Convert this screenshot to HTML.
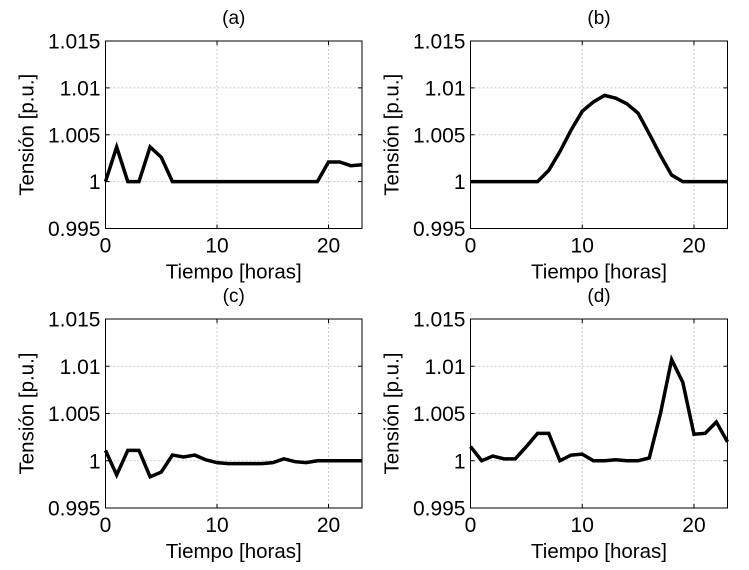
<!DOCTYPE html>
<html><head><meta charset="utf-8"><style>
body{margin:0;background:#fff;}
svg{display:block;font-family:"Liberation Sans",Arial,sans-serif;}
</style></head><body>
<svg id="chart" width="749" height="570" viewBox="0 0 749 570" xmlns="http://www.w3.org/2000/svg"></svg>
<script>
const hours=[0,1,2,3,4,5,6,7,8,9,10,11,12,13,14,15,16,17,18,19,20,21,22,23];
const seriesA=[1,1.0037,1,1,1.0037,1.0026,1,1,1,1,1,1,1,1,1,1,1,1,1,1,1.0021,1.0021,1.0017,1.0018];
const seriesB=[1,1,1,1,1,1,1,1.0012,1.0032,1.0055,1.0075,1.0085,1.0092,1.0089,1.0083,1.0073,1.0051,1.0028,1.0007,1,1,1,1,1];
const seriesC=[1.0011,0.9985,1.0011,1.0011,0.9983,0.9988,1.0006,1.0004,1.0006,1.0001,0.9998,0.9997,0.9997,0.9997,0.9997,0.9998,1.0002,0.9999,0.9998,1,1,1,1,1];
const seriesD=[1.0015,1.0000,1.0005,1.0002,1.0002,1.0015,1.0029,1.0029,1.0000,1.0006,1.0007,1.0000,1.0000,1.0001,1.0000,1.0000,1.0003,1.005,1.0107,1.0083,1.0028,1.0029,1.0041,1.002];
const yTicks=[0.995,1,1.005,1.01,1.015];
const yTickLabels=["0.995","1","1.005","1.01","1.015"];
const xTicks=[0,10,20];
const xTickLabels=["0","10","20"];
const titles=["(a)","(b)","(c)","(d)"];
const allSeries=[seriesA,seriesB,seriesC,seriesD];
const panels=[{x0:105.5,x1:362,y0:41,y1:228.5},{x0:470.5,x1:727.5,y0:41,y1:228.5},{x0:105.5,x1:362,y0:319,y1:508},{x0:470.5,x1:727.5,y0:319,y1:508}];
const svg=document.getElementById('chart');
const NS="http://www.w3.org/2000/svg";
function mk(tag,attrs,parent){const e=document.createElementNS(NS,tag);for(const k in attrs)e.setAttribute(k,attrs[k]);parent.appendChild(e);return e;}
panels.forEach((p,i)=>{
  const g=mk('g',{},svg);
  
  
  const xs=v=>p.x0+(v-0)/(23-0)*(p.x1-p.x0);
  const ys=v=>p.y1-(v-0.995)/(0.02)*(p.y1-p.y0);
  mk('rect',{x:p.x0,y:p.y0,width:p.x1-p.x0,height:p.y1-p.y0,fill:'#fff'},g);
  yTicks.forEach((t,k)=>{
    const y=ys(t);
    if(k>0&&k<yTicks.length-1){const l=mk('line',{x1:p.x0,x2:p.x1,y1:y,y2:y,stroke:'#c8c8c8','stroke-width':1,'stroke-dasharray':'2,2'},g);}
    mk('line',{x1:p.x0,x2:p.x0+4,y1:y,y2:y,stroke:'#000'},g);
    mk('line',{x1:p.x1,x2:p.x1-4,y1:y,y2:y,stroke:'#000'},g);
    const tx=mk('text',{x:p.x0-5,y:y+7.5,'text-anchor':'end','font-size':21},g);tx.textContent=yTickLabels[k];
    
  });
  xTicks.forEach((t,k)=>{
    const x=xs(t);
    if(t>0){const l=mk('line',{x1:x,x2:x,y1:p.y0,y2:p.y1,stroke:'#c8c8c8','stroke-width':1,'stroke-dasharray':'2,2'},g);}
    mk('line',{x1:x,x2:x,y1:p.y1,y2:p.y1-4,stroke:'#000'},g);
    mk('line',{x1:x,x2:x,y1:p.y0,y2:p.y0+4,stroke:'#000'},g);
    const tx=mk('text',{x:x,y:p.y1+24,'text-anchor':'middle','font-size':21},g);tx.textContent=xTickLabels[k];
    
  });
  const s=allSeries[i];
  const d=hours.map((h,k)=>(k?'L':'M')+xs(h).toFixed(2)+','+ys(s[k]).toFixed(2)).join(' ');
  const path=mk('path',{d:d,fill:'none',stroke:'#000','stroke-width':3.5,'stroke-linejoin':'miter'},g);
  
  const fr=mk('rect',{x:p.x0,y:p.y0,width:p.x1-p.x0,height:p.y1-p.y0,fill:'none',stroke:'#000','stroke-width':1},g);
  
  const tt=mk('text',{x:(p.x0+p.x1)/2,y:p.y0-17,'text-anchor':'middle','font-size':19},g);tt.textContent=titles[i];
  
  const xl=mk('text',{x:(p.x0+p.x1)/2,y:p.y1+50,'text-anchor':'middle','font-size':20.5},g);xl.textContent='Tiempo [horas]';
  
  const cy=(p.y0+p.y1)/2, cx=p.x0-72;
  const yl=mk('text',{x:cx,y:cy,'text-anchor':'middle','font-size':20.5,transform:'rotate(-90 '+cx+' '+cy+')'},g);yl.textContent='Tensión [p.u.]';
  
});
</script>
</body></html>
